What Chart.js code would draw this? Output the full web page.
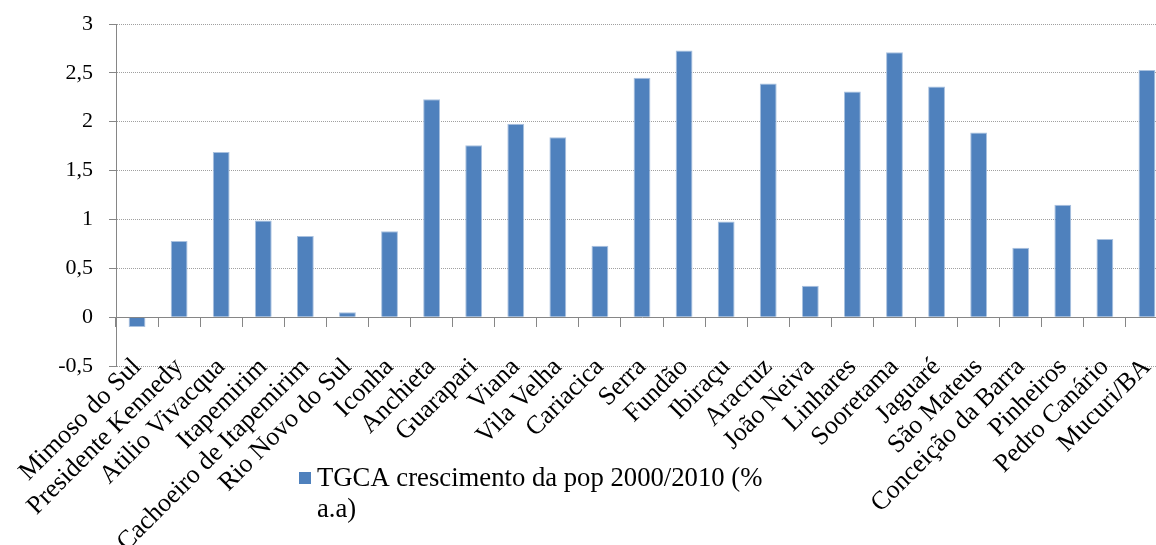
<!DOCTYPE html>
<html>
<head>
<meta charset="utf-8">
<script src="https://cdn.jsdelivr.net/npm/chart.js@4/dist/chart.umd.min.js"></script>
<style>
  html, body { margin: 0; padding: 0; background: #ffffff; overflow: hidden; }
  #wrap { position: relative; width: 1172px; height: 545px; }
</style>
</head>
<body>
<div id="wrap"><canvas id="c"></canvas></div>
<script>
// Municípios (sul -> norte) e taxa geométrica de crescimento anual 2000/2010
const municipios = [
  'Mimoso do Sul', 'Presidente Kennedy', 'Atilio Vivacqua', 'Itapemirim',
  'Cachoeiro de Itapemirim', 'Rio Novo do Sul', 'Iconha', 'Anchieta',
  'Guarapari', 'Viana', 'Vila Velha', 'Cariacica', 'Serra', 'Fundão',
  'Ibiraçu', 'Aracruz', 'João Neiva', 'Linhares', 'Sooretama', 'Jaguaré',
  'São Mateus', 'Conceição da Barra', 'Pinheiros', 'Pedro Canário', 'Mucuri/BA'
];
const tgca = [
  -0.10, 0.78, 1.69, 0.99,
  0.83, 0.05, 0.88, 2.23,
  1.76, 1.98, 1.84, 0.73, 2.45, 2.73,
  0.98, 2.39, 0.32, 2.31, 2.71, 2.36,
  1.89, 0.71, 1.15, 0.80, 2.53
];
const yTicks = [-0.5, 0, 0.5, 1, 1.5, 2, 2.5, 3];
const legendLines = ['TGCA crescimento da pop 2000/2010 (%', 'a.a)'];

const serif = '"Liberation Serif", "Times New Roman", serif';
const barColor = '#4f81bd';
const axisColor = '#868686';
const labelLift = 40; // category labels start slightly above the plot bottom

const fmt = v => String(v).replace('.', ',');

// let the rotated category labels overlap the lowest gridline
const liftLabels = {
  id: 'liftLabels',
  afterLayout(chart) {
    chart.scales.x.top -= labelLift;
  }
};

// two-line legend under the category labels
const legendPlugin = {
  id: 'twoLineLegend',
  afterDraw(chart) {
    const ctx = chart.ctx;
    const x0 = chart.chartArea.left + 183;
    const y0 = 472;
    ctx.save();
    ctx.fillStyle = barColor;
    ctx.fillRect(x0, y0, 12, 12);
    ctx.fillStyle = '#000000';
    ctx.font = '26.7px ' + serif;
    ctx.textBaseline = 'alphabetic';
    ctx.textAlign = 'left';
    legendLines.forEach((t, i) => ctx.fillText(t, x0 + 18, y0 + 14 + i * 31));
    ctx.restore();
  }
};

new Chart(document.getElementById('c'), {
  type: 'bar',
  data: {
    labels: municipios,
    datasets: [{
      label: legendLines.join(' '),
      data: tgca,
      backgroundColor: barColor,
      borderColor: '#a9c1df',
      borderWidth: 1,
      barPercentage: 1,
      categoryPercentage: 0.4,
      xAxisID: 'x',
      yAxisID: 'y'
    }]
  },
  options: {
    responsive: true,
    maintainAspectRatio: false,
    animation: false,
    layout: { padding: { top: 24, right: 4, left: 0, bottom: 0 } },
    plugins: {
      legend: { display: false },
      tooltip: { enabled: false }
    },
    scales: {
      x: {
        type: 'category',
        position: 'bottom',
        grid: { display: false },
        border: { display: false },
        ticks: {
          autoSkip: false,
          maxRotation: 45,
          minRotation: 45,
          padding: labelLift - 22,
          color: '#000000',
          font: { family: serif, size: 26 }
        },
        afterFit(scale) {
          scale.height = 179;
          scale.paddingLeft = 0;
          scale.paddingRight = 0;
        }
      },
      x0: {
        type: 'category',
        position: { y: 0 },
        offset: true,
        grid: {
          display: true,
          drawOnChartArea: false,
          drawTicks: true,
          tickLength: 9,
          color: axisColor,
          offset: true
        },
        border: { display: true, color: axisColor, width: 1 },
        ticks: { display: false },
        afterFit(scale) {
          scale.paddingLeft = 0;
          scale.paddingRight = 0;
        }
      },
      y: {
        type: 'linear',
        min: -0.5,
        max: 3,
        afterBuildTicks(scale) {
          scale.ticks = yTicks.map(v => ({ value: v }));
        },
        grid: {
          color: '#a0a0a0',
          lineWidth: 1,
          drawTicks: true,
          tickLength: 7,
          tickColor: axisColor
        },
        border: { display: true, color: axisColor, width: 1, dash: [1, 1] },
        ticks: {
          padding: 16,
          color: '#000000',
          font: { family: serif, size: 22 },
          callback: v => fmt(v)
        },
        afterFit(scale) {
          scale.width = 116;
          scale.paddingTop = 0;
          scale.paddingBottom = 0;
        }
      }
    }
  },
  plugins: [liftLabels, legendPlugin]
});
</script>
</body>
</html>
